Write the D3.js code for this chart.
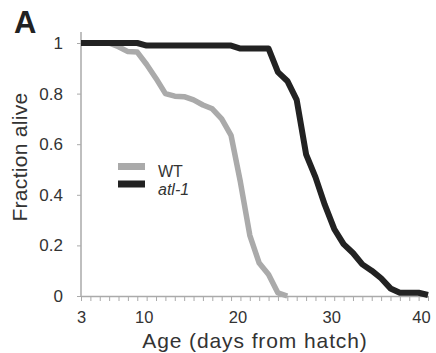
<!DOCTYPE html>
<html>
<head>
<meta charset="utf-8">
<script src="https://cdn.jsdelivr.net/npm/d3@7"></script>
<style>
    body { margin: 0; background: #ffffff; }
</style>
</head>
<body>
<svg id="chart"></svg>
<script>
// Survival data (day -> fraction alive)
const wtDays = [3, 4, 5, 6, 7, 8, 9, 10, 11, 12, 13, 14, 15, 16, 17, 18, 19, 20, 21, 22, 23, 24, 25];
const wtAlive = [1, 1, 1, 1, 0.985, 0.966, 0.964, 0.915, 0.86, 0.80, 0.79, 0.788, 0.775, 0.755, 0.74, 0.70, 0.635, 0.45, 0.24, 0.13, 0.085, 0.012, 0];

const atlDays = [3, 4, 5, 6, 7, 8, 9, 10, 11, 12, 13, 14, 15, 16, 17, 18, 19, 20, 21, 22, 23, 24, 25, 26, 27, 28, 29, 30, 31, 32, 33, 34, 35, 36, 37, 38, 39, 40];
const atlAlive = [1, 1, 1, 1, 1, 1, 1, 0.99, 0.99, 0.99, 0.99, 0.99, 0.99, 0.99, 0.99, 0.99, 0.99, 0.978, 0.978, 0.978, 0.978, 0.885, 0.85, 0.775, 0.56, 0.47, 0.36, 0.265, 0.205, 0.17, 0.125, 0.10, 0.07, 0.03, 0.013, 0.013, 0.013, 0.004];

const xTickLabels = [3, 10, 20, 30, 40];
const yTickValues = [0, 0.2, 0.4, 0.6, 0.8, 1];
const seriesNames = ["WT", "atl-1"];

const width = 436, height = 353;
const font = "'Liberation Sans', Arial, sans-serif";

const svg = d3.select("#chart")
    .attr("width", width)
    .attr("height", height)
    .attr("font-family", font);

const xScale = d3.scaleLinear().domain([3, 40]).range([81, 428]);
const yScale = d3.scaleLinear().domain([0, 1]).range([296, 43]);

// Y axis line runs a bit above the top tick
svg.append("line")
    .attr("x1", 81).attr("x2", 81)
    .attr("y1", 32).attr("y2", yScale(0))
    .attr("stroke", "#aaaaaa")
    .attr("stroke-width", 1.5);

// X axis: one tick per day, labels only on a few
const xAxis = d3.axisBottom(xScale)
    .tickValues(atlDays)
    .tickSize(5)
    .tickSizeOuter(0)
    .tickPadding(10)
    .tickFormat(d => xTickLabels.includes(d) ? d : "");

const gx = svg.append("g")
    .attr("transform", `translate(0, ${yScale(0)})`)
    .call(xAxis);
gx.select(".domain").attr("stroke", "#aaaaaa").attr("stroke-width", 1.5);
gx.selectAll(".tick line").attr("stroke", "#aaaaaa").attr("stroke-width", 1);
gx.selectAll(".tick text")
    .attr("fill", "#333333")
    .attr("font-size", "16.5px")
    .attr("font-family", font)
    // labels sit slightly left of their ticks in the original
    .attr("dx", d => d === 3 ? 0 : d === 40 ? -7 : -3);

// Y axis
const yAxis = d3.axisLeft(yScale)
    .tickValues(yTickValues)
    .tickSize(4)
    .tickPadding(14)
    .tickFormat(d => String(+d.toFixed(1)));

const gy = svg.append("g")
    .attr("transform", "translate(81, 0)")
    .call(yAxis);
gy.select(".domain").remove();
gy.selectAll(".tick line").attr("stroke", "#aaaaaa").attr("stroke-width", 1);
gy.selectAll(".tick text")
    .attr("fill", "#333333")
    .attr("font-size", "17px")
    .attr("font-family", font);

// Survival curves
const line = d3.line()
    .x(d => xScale(d[0]))
    .y(d => yScale(d[1]));

svg.append("path")
    .datum(d3.zip(wtDays, wtAlive))
    .attr("fill", "none")
    .attr("stroke", "#aaaaaa")
    .attr("stroke-width", 5.5)
    .attr("stroke-linejoin", "round")
    .attr("d", line);

svg.append("path")
    .datum(d3.zip(atlDays, atlAlive))
    .attr("fill", "none")
    .attr("stroke", "#222222")
    .attr("stroke-width", 6)
    .attr("stroke-linejoin", "round")
    .attr("d", line);

// Legend
const legendColors = ["#aaaaaa", "#222222"];
const legend = svg.selectAll(".legend")
    .data(seriesNames)
    .join("g")
        .attr("class", "legend")
        .attr("transform", (d, i) => `translate(118, ${163 + i * 17.5})`);

legend.append("rect")
    .attr("width", 27)
    .attr("height", 7)
    .attr("fill", (d, i) => legendColors[i]);

legend.append("text")
    .attr("x", 40)
    .attr("y", 14)
    .attr("fill", "#333333")
    .attr("font-size", "16px")
    .attr("font-style", (d, i) => i === 1 ? "italic" : "normal")
    .text(d => d);

// Axis titles
svg.append("text")
    .attr("x", 255)
    .attr("y", 348)
    .attr("text-anchor", "middle")
    .attr("fill", "#333333")
    .attr("font-size", "21px")
    .attr("letter-spacing", "0.9px")
    .text("Age (days from hatch)");

svg.append("text")
    .attr("transform", "translate(27, 157) rotate(-90)")
    .attr("text-anchor", "middle")
    .attr("fill", "#333333")
    .attr("font-size", "21px")
    .attr("letter-spacing", "0.3px")
    .text("Fraction alive");

// Panel letter
svg.append("text")
    .attr("x", 14)
    .attr("y", 33)
    .attr("fill", "#222222")
    .attr("font-size", "31px")
    .attr("font-weight", "bold")
    .text("A");
</script>
</body>
</html>
